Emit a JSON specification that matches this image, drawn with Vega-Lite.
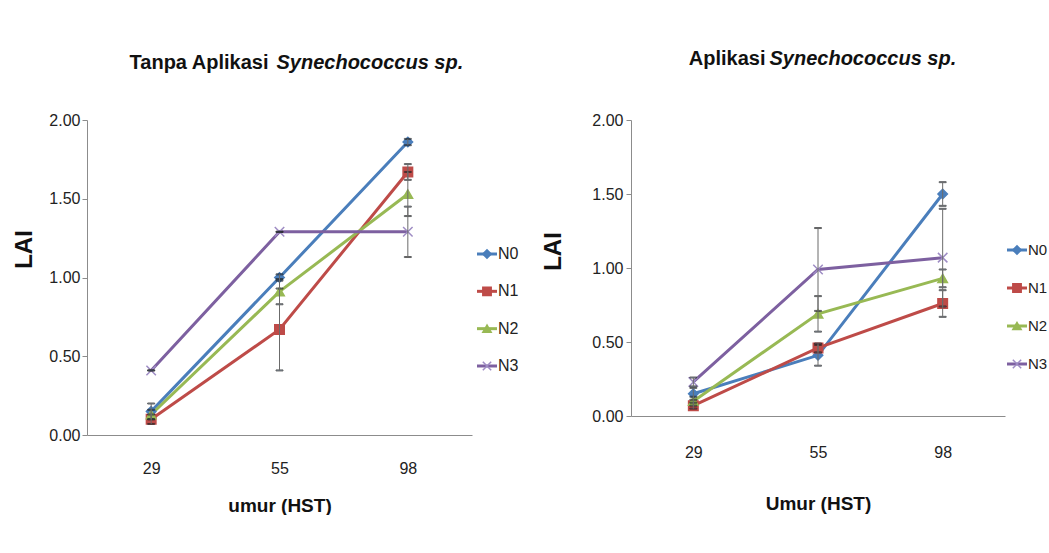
{
  "$schema": "https://vega.github.io/schema/vega-lite/v6.json",
  "background": "white",
  "padding": {"left": 12, "top": 48, "right": 0, "bottom": 0},
  "spacing": 0,
  "config": {
    "view": {"stroke": null},
    "font": "Liberation Sans, Arial, sans-serif",
    "axis": {
      "grid": false,
      "domainColor": "#8c8c8c",
      "tickColor": "#8c8c8c",
      "labelColor": "#222222",
      "labelFont": "Liberation Sans, Arial, sans-serif",
      "labelFontSize": 16,
      "titleFont": "Liberation Sans, Arial, sans-serif",
      "titleColor": "#111111",
      "titleFontWeight": "bold"
    }
  },
  "datasets": {
    "lai": [
      {"panel": "L", "series": "N0", "umur": 29, "lai": 0.15, "err": 0.05},
      {"panel": "L", "series": "N0", "umur": 55, "lai": 1.00, "err": 0.02},
      {"panel": "L", "series": "N0", "umur": 98, "lai": 1.86, "err": 0.02},
      {"panel": "L", "series": "N1", "umur": 29, "lai": 0.10, "err": 0.03},
      {"panel": "L", "series": "N1", "umur": 55, "lai": 0.67, "err": 0.26},
      {"panel": "L", "series": "N1", "umur": 98, "lai": 1.67, "err": 0.05},
      {"panel": "L", "series": "N2", "umur": 29, "lai": 0.13, "err": 0.03},
      {"panel": "L", "series": "N2", "umur": 55, "lai": 0.91, "err": 0.08},
      {"panel": "L", "series": "N2", "umur": 98, "lai": 1.53, "err": 0.14},
      {"panel": "L", "series": "N3", "umur": 29, "lai": 0.41, "err": 0.0},
      {"panel": "L", "series": "N3", "umur": 55, "lai": 1.29, "err": 0.0},
      {"panel": "L", "series": "N3", "umur": 98, "lai": 1.29, "err": 0.16},
      {"panel": "R", "series": "N0", "umur": 29, "lai": 0.15, "err": 0.04},
      {"panel": "R", "series": "N0", "umur": 55, "lai": 0.41, "err": 0.07},
      {"panel": "R", "series": "N0", "umur": 98, "lai": 1.50, "err": 0.08},
      {"panel": "R", "series": "N1", "umur": 29, "lai": 0.07, "err": 0.02},
      {"panel": "R", "series": "N1", "umur": 55, "lai": 0.46, "err": 0.03},
      {"panel": "R", "series": "N1", "umur": 98, "lai": 0.76, "err": 0.09},
      {"panel": "R", "series": "N2", "umur": 29, "lai": 0.10, "err": 0.03},
      {"panel": "R", "series": "N2", "umur": 55, "lai": 0.69, "err": 0.12},
      {"panel": "R", "series": "N2", "umur": 98, "lai": 0.93, "err": 0.06},
      {"panel": "R", "series": "N3", "umur": 29, "lai": 0.23, "err": 0.03},
      {"panel": "R", "series": "N3", "umur": 55, "lai": 0.99, "err": 0.28},
      {"panel": "R", "series": "N3", "umur": 98, "lai": 1.07, "err": 0.33}
    ]
  },
  "resolve": {"scale": {"x": "independent", "y": "independent", "color": "independent", "shape": "independent", "stroke": "independent"}},
  "hconcat": [
    {
      "width": 385,
      "height": 315,
      "data": {"name": "lai"},
      "transform": [{"filter": "datum.panel == 'L'"}],
      "resolve": {"axis": {"x": "independent"}},
      "encoding": {
        "y": {"field": "lai", "type": "quantitative", "scale": {"domain": [0, 2], "nice": false},
              "axis": {"title": "LAI", "values": [0, 0.5, 1, 1.5, 2], "format": ".2f", "tickSize": 5, "labelPadding": 2,
                       "titleFontSize": 24, "titlePadding": 12, "titleY": 129}}
      },
      "layer": [
        {
          "mark": {"type": "line", "strokeWidth": 3},
          "encoding": {
            "x": {"field": "umur", "type": "ordinal", "scale": {"type": "point", "padding": 0.5},
                  "axis": {"title": "umur (HST)", "ticks": false, "labelAngle": 0, "labelPadding": 25, "titleFontSize": 19, "titlePadding": 20}},
            "color": {"field": "series", "type": "nominal", "legend": null,
                      "scale": {"domain": ["N0", "N1", "N2", "N3"], "range": ["#4A7EBB", "#BE4B48", "#98B954", "#7D60A0"]}}
          }
        },
        {
          "mark": {"type": "point", "filled": true, "size": 90, "strokeWidth": 1.5, "opacity": 1},
          "encoding": {
            "x": {"field": "umur", "type": "ordinal",
                  "axis": {"orient": "top", "title": "Tanpa Aplikasi", "labels": false, "ticks": false, "domain": false,
                           "titleFontSize": 20, "titleAlign": "right", "titleBaseline": "middle", "titleAngle": 0,
                           "titleX": 181, "titleY": -58}},
            "color": {"field": "series", "type": "nominal", "legend": null,
                      "scale": {"domain": ["N0", "N1", "N2", "N3"], "range": ["#4A7EBB", "#BE4B48", "#98B954", "#7D60A0"]}},
            "stroke": {"field": "series", "type": "nominal", "legend": null,
                       "scale": {"domain": ["N0", "N1", "N2", "N3"], "range": ["#4A7EBB", "#BE4B48", "#98B954", "#9E8CC4"]}},
            "shape": {"field": "series", "type": "nominal", "legend": null,
                      "scale": {"domain": ["N0", "N1", "N2", "N3"], "range": ["diamond", "square", "triangle-up", "M-1,-1L1,1M-1,1L1,-1"]}}
          }
        },
        {
          "mark": {"type": "errorbar", "rule": {"stroke": "#6b6b6b", "strokeWidth": 1}, "ticks": {"stroke": "#222222", "size": 7}},
          "encoding": {
            "x": {"field": "umur", "type": "ordinal",
                  "axis": {"orient": "top", "title": "Synechococcus sp.", "labels": false, "ticks": false, "domain": false,
                           "titleFontSize": 20, "titleFontStyle": "italic", "titleAlign": "left", "titleBaseline": "middle", "titleAngle": 0,
                           "titleX": 189, "titleY": -58}},
            "yError": {"field": "err"}
          }
        }
      ]
    },
    {
      "width": 69,
      "height": 315,
      "data": {"name": "lai"},
      "transform": [{"filter": "datum.panel == 'L' && datum.umur == 29"}],
      "encoding": {
        "y": {"field": "series", "type": "nominal", "scale": {"type": "point", "padding": 0, "range": [134, 246]}, "axis": null}
      },
      "layer": [
        {
          "mark": {"type": "rule", "strokeWidth": 3},
          "encoding": {
            "x": {"datum": 5, "type": "quantitative", "scale": {"domain": [0, 69], "nice": false, "zero": false}, "axis": null},
            "x2": {"datum": 25},
            "color": {"field": "series", "type": "nominal", "legend": null,
                      "scale": {"domain": ["N0", "N1", "N2", "N3"], "range": ["#4A7EBB", "#BE4B48", "#98B954", "#7D60A0"]}}
          }
        },
        {
          "mark": {"type": "point", "filled": true, "size": 70, "strokeWidth": 1.5, "opacity": 1},
          "encoding": {
            "x": {"datum": 15, "type": "quantitative"},
            "color": {"field": "series", "type": "nominal", "legend": null,
                      "scale": {"domain": ["N0", "N1", "N2", "N3"], "range": ["#4A7EBB", "#BE4B48", "#98B954", "#7D60A0"]}},
            "stroke": {"field": "series", "type": "nominal", "legend": null,
                       "scale": {"domain": ["N0", "N1", "N2", "N3"], "range": ["#4A7EBB", "#BE4B48", "#98B954", "#9E8CC4"]}},
            "shape": {"field": "series", "type": "nominal", "legend": null,
                      "scale": {"domain": ["N0", "N1", "N2", "N3"], "range": ["diamond", "square", "triangle-up", "M-1,-1L1,1M-1,1L1,-1"]}}
          }
        },
        {
          "mark": {"type": "text", "align": "left", "baseline": "middle", "fontSize": 16, "color": "#222222"},
          "encoding": {
            "x": {"datum": 26, "type": "quantitative"},
            "text": {"field": "series"}
          }
        }
      ]
    },
    {
      "width": 374,
      "height": 296,
      "data": {"name": "lai"},
      "transform": [{"filter": "datum.panel == 'R'"}],
      "resolve": {"axis": {"x": "independent"}},
      "encoding": {
        "y": {"field": "lai", "type": "quantitative", "scale": {"domain": [0, 2], "nice": false},
              "axis": {"title": "LAI", "values": [0, 0.5, 1, 1.5, 2], "format": ".2f", "tickSize": 5, "labelPadding": 3,
                       "titleFontSize": 24, "titlePadding": 26, "titleY": 131}}
      },
      "layer": [
        {
          "mark": {"type": "line", "strokeWidth": 3},
          "encoding": {
            "x": {"field": "umur", "type": "ordinal", "scale": {"type": "point", "padding": 0.5},
                  "axis": {"title": "Umur (HST)", "ticks": false, "labelAngle": 0, "labelPadding": 28, "titleFontSize": 19, "titlePadding": 34}},
            "color": {"field": "series", "type": "nominal", "legend": null,
                      "scale": {"domain": ["N0", "N1", "N2", "N3"], "range": ["#4A7EBB", "#BE4B48", "#98B954", "#7D60A0"]}}
          }
        },
        {
          "mark": {"type": "point", "filled": true, "size": 90, "strokeWidth": 1.5, "opacity": 1},
          "encoding": {
            "x": {"field": "umur", "type": "ordinal",
                  "axis": {"orient": "top", "title": "Aplikasi", "labels": false, "ticks": false, "domain": false,
                           "titleFontSize": 20, "titleAlign": "right", "titleBaseline": "middle", "titleAngle": 0,
                           "titleX": 134, "titleY": -62}},
            "color": {"field": "series", "type": "nominal", "legend": null,
                      "scale": {"domain": ["N0", "N1", "N2", "N3"], "range": ["#4A7EBB", "#BE4B48", "#98B954", "#7D60A0"]}},
            "stroke": {"field": "series", "type": "nominal", "legend": null,
                       "scale": {"domain": ["N0", "N1", "N2", "N3"], "range": ["#4A7EBB", "#BE4B48", "#98B954", "#9E8CC4"]}},
            "shape": {"field": "series", "type": "nominal", "legend": null,
                      "scale": {"domain": ["N0", "N1", "N2", "N3"], "range": ["diamond", "square", "triangle-up", "M-1,-1L1,1M-1,1L1,-1"]}}
          }
        },
        {
          "mark": {"type": "errorbar", "rule": {"stroke": "#6b6b6b", "strokeWidth": 1}, "ticks": {"stroke": "#222222", "size": 7}},
          "encoding": {
            "x": {"field": "umur", "type": "ordinal",
                  "axis": {"orient": "top", "title": "Synechococcus sp.", "labels": false, "ticks": false, "domain": false,
                           "titleFontSize": 20, "titleFontStyle": "italic", "titleAlign": "left", "titleBaseline": "middle", "titleAngle": 0,
                           "titleX": 138, "titleY": -62}},
            "yError": {"field": "err"}
          }
        }
      ]
    },
    {
      "width": 46,
      "height": 296,
      "data": {"name": "lai"},
      "transform": [{"filter": "datum.panel == 'R' && datum.umur == 29"}],
      "encoding": {
        "y": {"field": "series", "type": "nominal", "scale": {"type": "point", "padding": 0, "range": [130, 244]}, "axis": null}
      },
      "layer": [
        {
          "mark": {"type": "rule", "strokeWidth": 3},
          "encoding": {
            "x": {"datum": 2, "type": "quantitative", "scale": {"domain": [0, 46], "nice": false, "zero": false}, "axis": null},
            "x2": {"datum": 22},
            "color": {"field": "series", "type": "nominal", "legend": null,
                      "scale": {"domain": ["N0", "N1", "N2", "N3"], "range": ["#4A7EBB", "#BE4B48", "#98B954", "#7D60A0"]}}
          }
        },
        {
          "mark": {"type": "point", "filled": true, "size": 70, "strokeWidth": 1.5, "opacity": 1},
          "encoding": {
            "x": {"datum": 12, "type": "quantitative"},
            "color": {"field": "series", "type": "nominal", "legend": null,
                      "scale": {"domain": ["N0", "N1", "N2", "N3"], "range": ["#4A7EBB", "#BE4B48", "#98B954", "#7D60A0"]}},
            "stroke": {"field": "series", "type": "nominal", "legend": null,
                       "scale": {"domain": ["N0", "N1", "N2", "N3"], "range": ["#4A7EBB", "#BE4B48", "#98B954", "#9E8CC4"]}},
            "shape": {"field": "series", "type": "nominal", "legend": null,
                      "scale": {"domain": ["N0", "N1", "N2", "N3"], "range": ["diamond", "square", "triangle-up", "M-1,-1L1,1M-1,1L1,-1"]}}
          }
        },
        {
          "mark": {"type": "text", "align": "left", "baseline": "middle", "fontSize": 15, "color": "#222222"},
          "encoding": {
            "x": {"datum": 23, "type": "quantitative"},
            "text": {"field": "series"}
          }
        }
      ]
    }
  ]
}
